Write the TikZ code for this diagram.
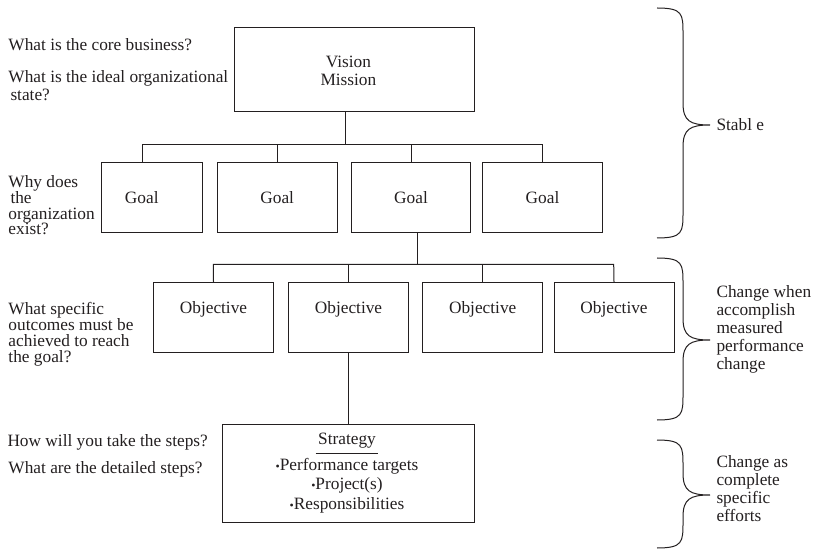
\documentclass[tikz,border=0pt]{standalone}
\usepackage{fontspec}
\setmainfont{Liberation Serif}
\definecolor{ink}{RGB}{35,31,32}
\newcommand{\mybul}{{\fontsize{12}{12}\selectfont•}}
\begin{document}
\begin{tikzpicture}[x=1pt,y=-1pt,line width=1pt,color=ink,
  box/.style={draw,rectangle,inner sep=0pt,line width=1pt,minimum height=70pt},
  txt/.style={font=\fontsize{17.3}{18}\selectfont,inner sep=0pt},
  lft/.style={txt,anchor=west,align=left},
  conn/.style={line width=1pt},
  brc/.style={line width=1pt}]
\useasboundingbox (0,0) rectangle (814,553);
% Vision box
\node[box,minimum width=239.3pt,minimum height=84pt] (vm) at (354.4,70) {};
\node[txt,align=center,font=\fontsize{17.3}{18.7}\selectfont] (vmt) at ([xshift=-6pt,yshift=-1pt]vm.center) {Vision\\Mission};
% goals
\node[box,minimum width=101pt] (g1) at (151.8,197.3) {};
\node[box,minimum width=119.7pt] (g2) at (277.2,197.3) {};
\node[box,minimum width=119.4pt] (g3) at (411,197.3) {};
\node[box,minimum width=119.6pt] (g4) at (542.5,197.3) {};
\node[txt] (g1t) at ([xshift=-10pt]g1.center) {Goal};
\node[txt] (g2t) at (g2.center) {Goal};
\node[txt] (g3t) at (g3.center) {Goal};
\node[txt] (g4t) at (g4.center) {Goal};
% objectives
\node[box,minimum width=120.4pt] (o1) at (213.5,317.3) {};
\node[box,minimum width=119.6pt] (o2) at (348.5,317.3) {};
\node[box,minimum width=120pt] (o3) at (482.7,317.3) {};
\node[box,minimum width=120pt] (o4) at (614,317.3) {};
\foreach \i in {1,2,3,4}{
  \node[txt] (o\i t) at ([yshift=8pt]o\i.center) {Objective};
}
% strategy
\node[box,minimum width=252pt,minimum height=98.7pt] (s) at (348,473.4) {};
\node[txt] (st) at (347,440.5) {Strategy};
\coordinate (ulA) at ([xshift=-2pt,yshift=-4.5pt]st.south west);
\coordinate (ulB) at ([xshift=2pt,yshift=-4.5pt]st.south east);
\draw[conn] (ulA) -- (ulB);
\node[txt,align=center,font=\fontsize{17.3}{19.5}\selectfont] (sl) at (347,485.5) {\mybul Performance targets\\\mybul Project(s)\\\mybul Responsibilities};
% connectors level 1
\coordinate (b1) at (345.7,144.3);
\coordinate (b1L) at (142,144.3);
\coordinate (b1R) at (542.3,144.3);
\draw[conn] (b1 |- vm.south) -- (b1);
\draw[conn] (b1L |- g1.north) -- (b1L) -- (b1R) -- (b1R |- g4.north);
\draw[conn] (g2.north) -- (g2.north |- b1L);
\draw[conn] (g3.north) -- (g3.north |- b1L);
% connectors level 2
\coordinate (b2) at (417.3,264.3);
\coordinate (b2L) at (213.3,264.3);
\coordinate (b2R) at (613.7,264.3);
\draw[conn] (b2 |- g3.south) -- (b2);
\draw[conn] (o1.north) -- (b2L) -- (b2R) -- (o4.north);
\draw[conn] (o2.north) -- (o2.north |- b2L);
\draw[conn] (o3.north) -- (o3.north |- b2L);
% connector level 3
\draw[conn] (o2.south) -- (o2.south |- s.north);
% left questions
\node[lft] (q1) at (8,45) {What is the core business?};
\node[lft] (q2) at (8,86) {What is the ideal organizational\\\hspace*{2pt}state?};
\node[lft,font=\fontsize{17.3}{15.8}\selectfont] (q3) at (8,205.4) {Why does\\\hspace*{2pt}the\\organization\\exist?};
\node[lft,font=\fontsize{17.3}{16}\selectfont] (q4) at (8,334) {What specific\\outcomes must be\\achieved to reach\\the goal?};
\node[lft] (q5) at (7,442.3) {How will you take the steps?};
\node[lft] (q6) at (8,469.3) {What are the detailed steps?};
% braces
\foreach \t/\m/\b in {8/125/238, 258/340/420, 440/495/548}{
  \draw[brc] (657,\t) .. controls (683,\t) and (683,\t+6) .. (683,\t+26) -- (683,\m-22) .. controls (683,\m-4) and (690,\m) .. (710,\m) .. controls (690,\m) and (683,\m+4) .. (683,\m+22) -- (683,\b-26) .. controls (683,\b-6) and (683,\b) .. (657,\b);
}
% right texts
\node[lft] (r1) at (716,125) {Stabl e};
\node[lft] (r2) at (716,329) {Change when\\accomplish\\measured\\performance\\change};
\node[lft] (r3) at (716,489) {Change as\\complete\\specific\\efforts};
\end{tikzpicture}
\end{document}
